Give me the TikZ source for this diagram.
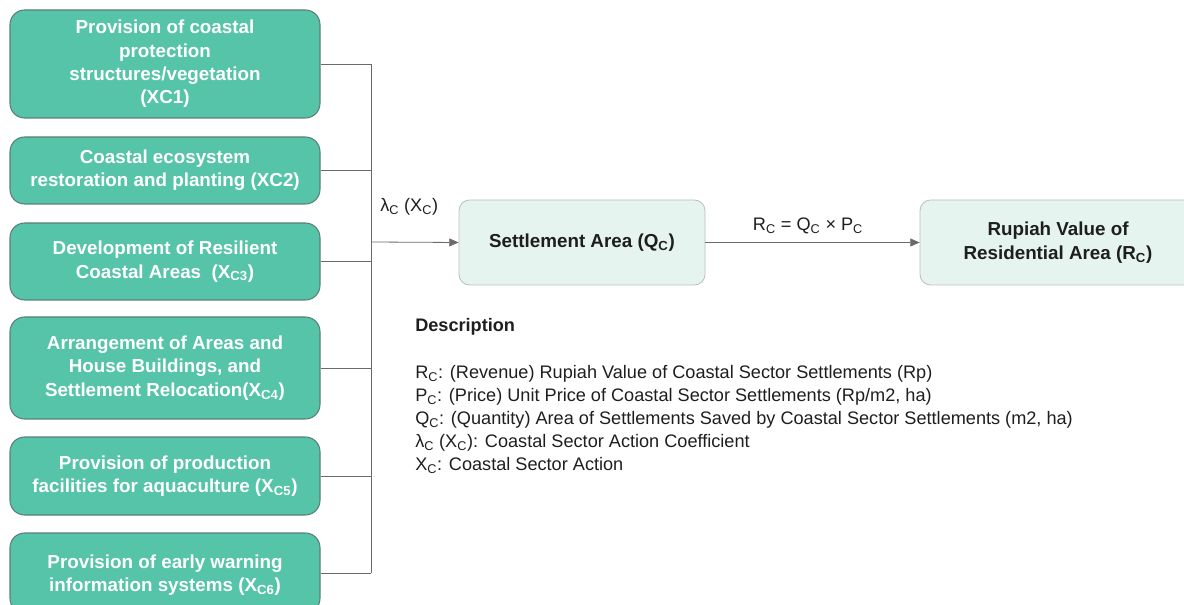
\documentclass[tikz,border=0pt]{standalone}
\usepackage{fontspec}
\setmainfont{Liberation Sans}
\usetikzlibrary{arrows.meta}
\definecolor{gfill}{HTML}{55C4A9}
\definecolor{gbord}{HTML}{5B7F76}
\definecolor{lfill}{HTML}{E6F4F0}
\definecolor{lbord}{HTML}{B8C0BD}
\definecolor{conn}{HTML}{6A6A6A}
\definecolor{txt}{HTML}{1E1E1E}
\newcommand\lsub[1]{\textsubscript{#1}}
\tikzset{
  greenbox/.style={draw=gbord, fill=gfill, line width=0.8pt, rounded corners=11pt,
    text=white, font=\bfseries\fontsize{14.1}{17.5}\selectfont, align=center,
    minimum width=232.5pt, inner sep=0pt},
  lightbox/.style={draw=lbord, fill=lfill, line width=0.6pt, rounded corners=8pt,
    text=txt, font=\bfseries\fontsize{14.1}{18}\selectfont, align=center,
    minimum height=63.75pt, inner sep=0pt},
  link/.style={draw=conn, line width=0.6pt},
  arr/.style={link, -{Triangle[length=7pt,width=6pt]}},
  lbl/.style={text=txt, font=\fontsize{13.6}{17.3}\selectfont, inner sep=0pt},
}
\begin{document}
\begin{tikzpicture}[x=0.75pt,y=-0.75pt]
\useasboundingbox (0,0) rectangle (1184,605);
\node[greenbox, minimum height=81pt] (b1) at (165,64) {Provision of coastal\\protection\\structures/vegetation\\(XC1)};
\node[greenbox, minimum height=50.25pt] (b2) at (165,170.5) {Coastal ecosystem\\restoration and planting (XC2)};
\node[greenbox, minimum height=57.75pt] (b3) at (165,261.5) {Development of Resilient\\Coastal Areas\ \ (X\lsub{C3})};
\node[greenbox, minimum height=76.5pt] (b4) at (165,368) {Arrangement of Areas and\\House Buildings, and\\Settlement Relocation(X\lsub{C4})};
\node[greenbox, minimum height=58.5pt] (b5) at (165,476) {Provision of production\\facilities for aquaculture (X\lsub{C5})};
\node[greenbox, minimum height=60pt, text depth=0pt] (b6) at (165,573) {Provision of early warning\\information systems (X\lsub{C6})};
\coordinate (bus) at (371,242);
\node[lightbox, minimum width=184.5pt] (qc) at (582,242.5) {Settlement Area (Q\lsub{C})};
\node[lightbox, minimum width=207pt] (rc) at (1058,242.5) {Rupiah Value of\\Residential Area (R\lsub{C})};
\foreach \b in {b1,b2,b3,b4,b5,b6} {\draw[link] (\b.east) -- (\b.east -| bus);}
\draw[link] (b1.east -| bus) -- (b6.east -| bus);
\draw[arr] (bus) -- (qc.west);
\draw[arr] (qc.east) -- (rc.west);
\node[lbl, anchor=south west] (lam) at (380,216) {λ\lsub{C} (X\lsub{C})};
\node[lbl, anchor=south] (eq) at (808,234) {R\lsub{C} = Q\lsub{C} × P\lsub{C}};
\node[lbl, anchor=west, font=\bfseries\fontsize{13.6}{17.3}\selectfont] (desc) at (415,327) {Description};
\node[lbl, anchor=north west, align=left, font=\fontsize{13.6}{17.25}\selectfont] (lines) at (415,365) {R\lsub{C}: (Revenue) Rupiah Value of Coastal Sector Settlements (Rp)\\
P\lsub{C}: (Price) Unit Price of Coastal Sector Settlements (Rp/m2, ha)\\
Q\lsub{C}: (Quantity) Area of Settlements Saved by Coastal Sector Settlements (m2, ha)\\
λ\lsub{C} (X\lsub{C}): Coastal Sector Action Coefficient\\
X\lsub{C}: Coastal Sector Action};
\end{tikzpicture}
\end{document}
